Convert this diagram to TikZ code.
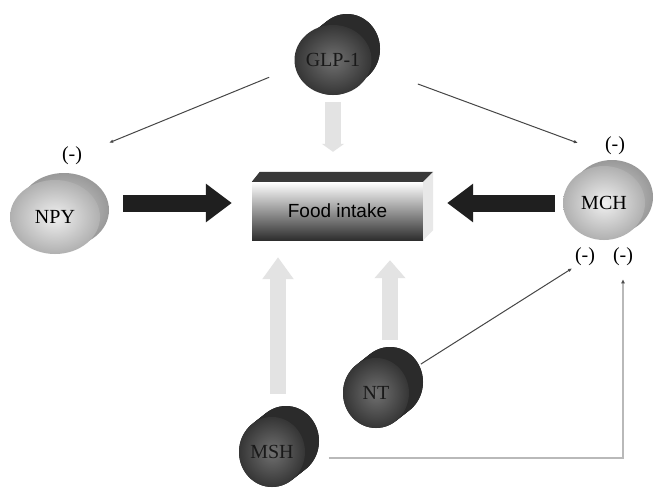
\documentclass[tikz,border=0pt]{standalone}
\usepackage{fontspec}
\setmainfont{Liberation Serif}
\newfontfamily\boxfont{Liberation Sans}
\usetikzlibrary{shapes.geometric}
\usetikzlibrary{arrows.meta}
\usetikzlibrary{calc}
\tikzset{
  % text of the molecules
  mol/.style = {
    font = \fontsize{20}{24}\selectfont
  },
  sign/.style = {
    mol,
    inner sep = 1pt
  },
  % round molecules (front and rim)
  sphere/.style = {
    mol,
    ellipse,
    inner sep = 0,
    minimum height = 74pt,
    shading = radial,
    inner color = gray!12,
    outer color = gray!62
  },
  sphererim/.style = {
    ellipse,
    inner sep = 0,
    minimum height = 74pt,
    shading = radial,
    inner color = gray!35,
    outer color = gray!80
  },
  % cylinder molecules
  cylface/.style = {
    mol,
    ellipse,
    inner sep = 0,
    minimum width = 66pt,
    minimum height = 70pt,
    shading = radial,
    inner color = gray!88!black,
    outer color = gray!42!black,
    text = black!90
  },
  cylrim/.style = {
    ellipse,
    inner sep = 0,
    minimum width = 66pt,
    minimum height = 70pt,
    fill = gray!34!black
  },
  cylside/.style = {
    fill = gray!34!black
  },
  % the box in the middle
  foodbox/.style = {
    rectangle,
    inner sep = 0,
    minimum width = 171pt,
    minimum height = 58pt,
    top color = white,
    middle color = gray!55,
    bottom color = black!82,
    font = \boxfont\fontsize{19}{22}\selectfont
  },
  foodtop/.style = {
    fill = gray!45!black
  },
  foodside/.style = {
    fill = gray!18
  },
  % connectors
  blockarrow/.style = {
    draw = black!88,
    line width = 17pt,
    -{Triangle[length=26pt,width=37pt]}
  },
  grayarrow/.style = {
    draw = gray!22,
    line width = 16pt,
    -{Triangle[length=22pt,width=30pt]}
  },
  inhib/.style = {
    draw = gray!55!black,
    line width = 1pt,
    -{Latex[length=4pt,width=3.5pt]}
  },
  mshline/.style = {
    draw = gray!55,
    line width = 1.8pt,
    -{Latex[length=4pt,width=4pt,black!70]}
  }
}

\begin{document}
\begin{tikzpicture}[x=1pt,y=-1pt]
  \fill[white] (0,0) rectangle (654,490);
  \useasboundingbox (0,0) rectangle (654,490);

  % cylinders
  \foreach \nm/\px/\py/\lbl in {glp/333/60/GLP-1, nt/376/393/NT, msh/272/452/MSH} {
    \foreach \k in {0,...,10}
      \fill[cylside] (\px+1.4*\k,\py-1.1*\k) ellipse (33pt and 35pt);
    \node[cylrim] (\nm rim) at (\px+14,\py-11) {};
    \node[cylface] (\nm) at (\px,\py) {\lbl};
  }

  % spheres
  \node[sphererim, minimum width=90pt] (npyrim) at (64,210) {};
  \node[sphere, minimum width=90pt] (npy) at (55,217) {NPY};
  \node[sphererim, minimum width=82pt] (mchrim) at (612,197) {};
  \node[sphere, minimum width=82pt] (mch) at (604,203) {MCH};

  % food intake
  \node[foodbox] (food) at (337.5,211) {Food intake};
  \fill[foodtop] (food.north west) -- (food.north east) -- ++(10,-10)
    -- ($(food.north west)+(8,-10)$) -- cycle;
  \fill[foodside] (food.north east) -- ++(10,-10)
    -- ($(food.south east)+(10,-10)$) -- (food.south east) -- cycle;

  % signs
  \node[sign] (npyneg) at (72,156) {(-)};
  \node[sign] (mchneg) at (615,146) {(-)};
  \node[sign] (mchnega) at (585,257) {(-)};
  \node[sign] (mchnegb) at (623,257) {(-)};

  % arrows to the box
  \draw[blockarrow, shorten <=14pt, shorten >=20pt]
    ([yshift=7pt]npyrim.east) -- ([yshift=8pt]food.west);
  \draw[blockarrow, shorten <=8pt, shorten >=24pt]
    (mch.west) -- (mch.west -| food.east);
  \draw[grayarrow, -{Triangle[length=8pt,width=22pt]}, shorten <=7pt, shorten >=30pt]
    (glp.south) -- (glp.south |- food.north);
  \coordinate (mshtop) at ([xshift=6pt]msh.north);
  \draw[grayarrow, shorten <=23pt, shorten >=17pt]
    (mshtop) -- (mshtop |- food.south);
  \draw[grayarrow, -{Triangle[length=18pt,width=30pt]}, shorten <=7pt, shorten >=20pt]
    (ntrim.north) -- (ntrim.north |- food.south);

  % thin lines
  \draw[inhib, shorten <=28pt] (glp.190) -- ([xshift=26pt,yshift=3pt]npyneg.north east);
  \draw[inhib, shorten <=50pt] (glp.-10) -- ([xshift=-26pt,yshift=3pt]mchneg.west);
  \draw[inhib, shorten <=2pt, shorten >=2pt] (ntrim.30) -- (mchnega.south west);
  \draw[mshline, shorten <=24pt, shorten >=12pt] (msh.-10) -| (mchnegb.south);
\end{tikzpicture}
\end{document}
